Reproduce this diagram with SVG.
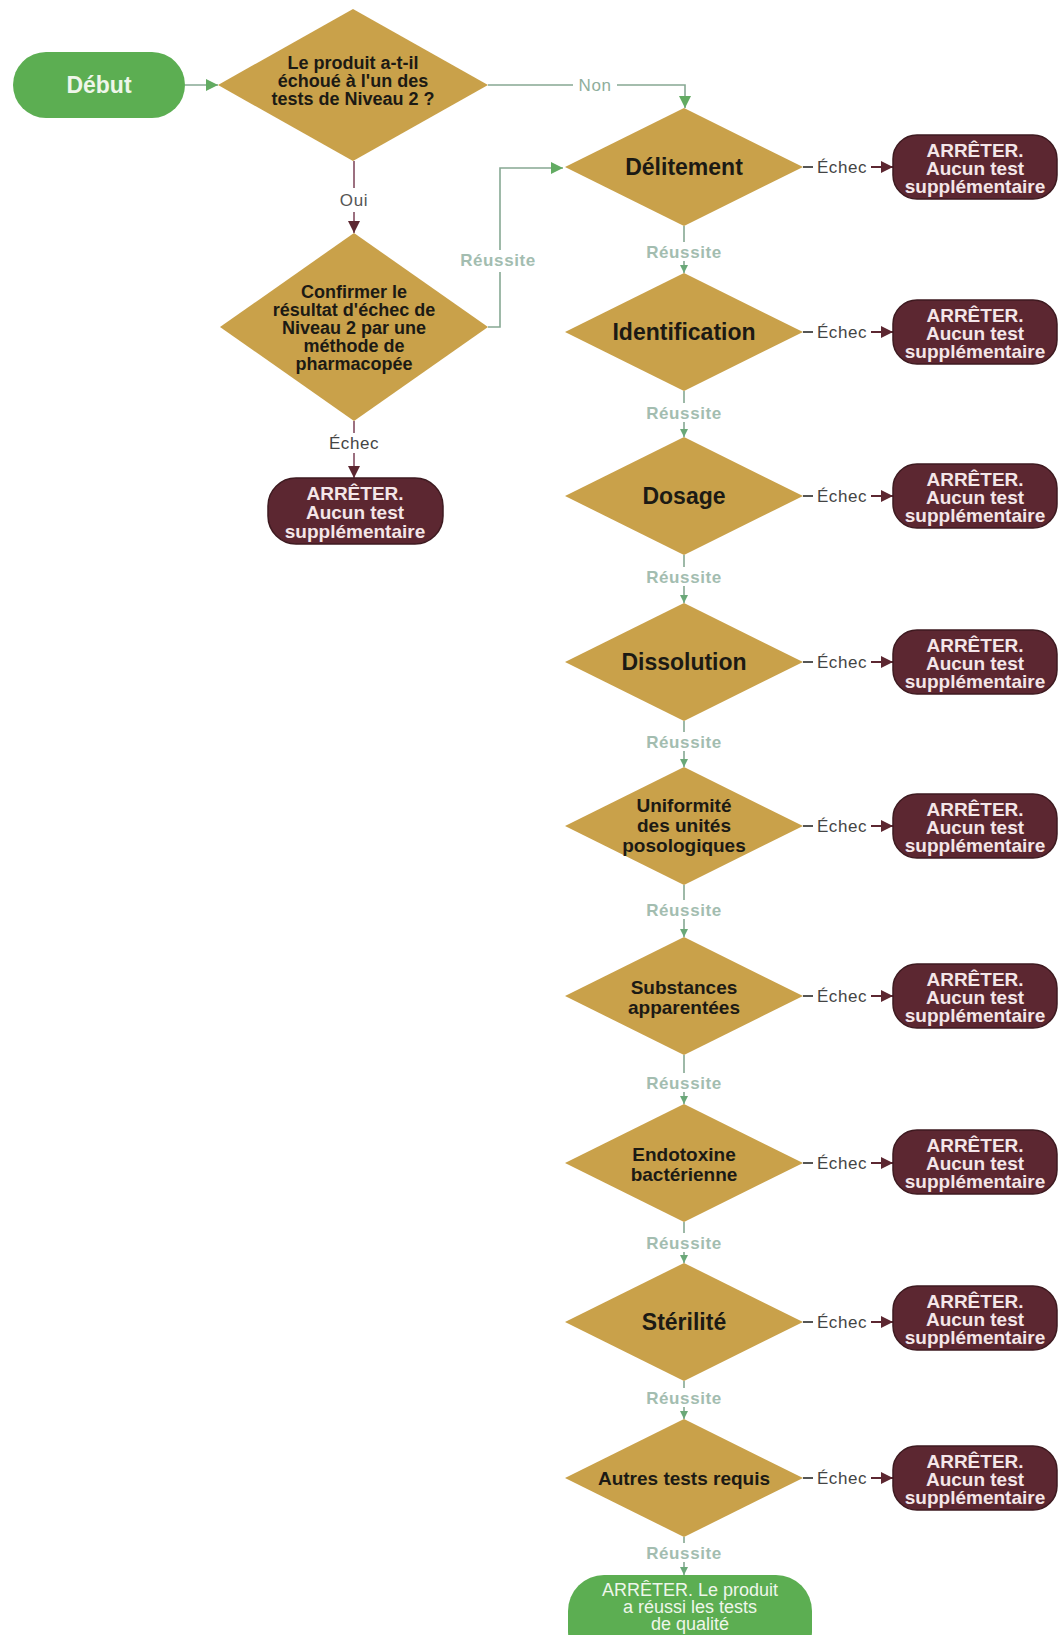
<svg xmlns="http://www.w3.org/2000/svg" width="1058" height="1635" viewBox="0 0 1058 1635">
<style>
text{font-family:"Liberation Sans",Arial,sans-serif;text-anchor:middle}
.dia{fill:#c9a14a}
.dt{font-weight:bold;fill:#1c1a14}
.big{font-size:23px}
.mid{font-size:19px}
.sm{font-size:18px}
.stop{fill:#5c2731;stroke:#3e1a20;stroke-width:1.5}
.st{font-size:19px;font-weight:bold;fill:#f4e6e8}
.go{fill:#5cae52}
.gt{fill:#eef6ea}
.ok{stroke:#86a893;stroke-width:1.6;fill:none}
.ko{stroke:#5c2731;stroke-width:2;fill:none}
.ks{stroke:#555;stroke-width:2;fill:none}
.lr{font-size:17px;font-weight:bold;fill:#a3bdb0;letter-spacing:0.6px}
.le{font-size:17px;fill:#444;letter-spacing:0.6px}
</style>
<defs>
<marker id="ag" viewBox="0 0 10 10" refX="10" refY="5" markerWidth="12" markerHeight="12" markerUnits="userSpaceOnUse" orient="auto"><path d="M0,0 L10,5 L0,10 z" fill="#62ab62"/></marker>
<marker id="ags" viewBox="0 0 10 10" refX="10" refY="5" markerWidth="8" markerHeight="8" markerUnits="userSpaceOnUse" orient="auto"><path d="M0,0 L10,5 L0,10 z" fill="#6aa878"/></marker>
<marker id="ar" viewBox="0 0 10 10" refX="10" refY="5" markerWidth="12" markerHeight="12" markerUnits="userSpaceOnUse" orient="auto"><path d="M0,0 L10,5 L0,10 z" fill="#5c2731"/></marker>
</defs>

<g id="connectors">
<path class="ok" d="M185,85 H218" marker-end="url(#ag)"/>
<path class="ok" d="M488,85 H573 M617,85 H685 V108" marker-end="url(#ag)"/>
<text class="le" x="595" y="91" style="fill:#8fae9c">Non</text>
<path d="M354,161 V188 M354,212 V233" stroke="#9c7080" stroke-width="2" fill="none" marker-end="url(#ar)"/>
<text class="le" x="354" y="206" style="fill:#555">Oui</text>
<path class="ok" d="M488,327 H500 V272 M500,250 V168 H563" marker-end="url(#ag)"/>
<text class="lr" x="498" y="266">Réussite</text>
<path d="M354,421 V433 M354,453 V478" stroke="#9c7080" stroke-width="2" fill="none" marker-end="url(#ar)"/>
<text class="le" x="354" y="449">Échec</text>

<path class="ok" d="M684,226 V242 M684,261 V273" marker-end="url(#ags)"/>
<text class="lr" x="684" y="258">Réussite</text>
<path class="ok" d="M684,391 V403 M684,422 V437" marker-end="url(#ags)"/>
<text class="lr" x="684" y="419">Réussite</text>
<path class="ok" d="M684,555 V567 M684,586 V603" marker-end="url(#ags)"/>
<text class="lr" x="684" y="583">Réussite</text>
<path class="ok" d="M684,721 V732 M684,751 V767" marker-end="url(#ags)"/>
<text class="lr" x="684" y="748">Réussite</text>
<path class="ok" d="M684,885 V900 M684,919 V937" marker-end="url(#ags)"/>
<text class="lr" x="684" y="916">Réussite</text>
<path class="ok" d="M684,1055 V1073 M684,1092 V1104" marker-end="url(#ags)"/>
<text class="lr" x="684" y="1089">Réussite</text>
<path class="ok" d="M684,1222 V1233 M684,1252 V1263" marker-end="url(#ags)"/>
<text class="lr" x="684" y="1249">Réussite</text>
<path class="ok" d="M684,1381 V1388 M684,1407 V1419" marker-end="url(#ags)"/>
<text class="lr" x="684" y="1404">Réussite</text>
<path class="ok" d="M684,1537 V1543 M684,1562 V1575" marker-end="url(#ags)"/>
<text class="lr" x="684" y="1559">Réussite</text>

<g>
<path class="ks" d="M803,167 H813"/><path class="ko" d="M871,167 H893" marker-end="url(#ar)"/><text class="le" x="842" y="173">Échec</text>
<path class="ks" d="M803,332 H813"/><path class="ko" d="M871,332 H893" marker-end="url(#ar)"/><text class="le" x="842" y="338">Échec</text>
<path class="ks" d="M803,496 H813"/><path class="ko" d="M871,496 H893" marker-end="url(#ar)"/><text class="le" x="842" y="502">Échec</text>
<path class="ks" d="M803,662 H813"/><path class="ko" d="M871,662 H893" marker-end="url(#ar)"/><text class="le" x="842" y="668">Échec</text>
<path class="ks" d="M803,826 H813"/><path class="ko" d="M871,826 H893" marker-end="url(#ar)"/><text class="le" x="842" y="832">Échec</text>
<path class="ks" d="M803,996 H813"/><path class="ko" d="M871,996 H893" marker-end="url(#ar)"/><text class="le" x="842" y="1002">Échec</text>
<path class="ks" d="M803,1163 H813"/><path class="ko" d="M871,1163 H893" marker-end="url(#ar)"/><text class="le" x="842" y="1169">Échec</text>
<path class="ks" d="M803,1322 H813"/><path class="ko" d="M871,1322 H893" marker-end="url(#ar)"/><text class="le" x="842" y="1328">Échec</text>
<path class="ks" d="M803,1478 H813"/><path class="ko" d="M871,1478 H893" marker-end="url(#ar)"/><text class="le" x="842" y="1484">Échec</text>
</g>
</g>

<g id="debut">
<rect class="go" x="13" y="52" width="172" height="66" rx="33"/>
<text class="gt" x="99" y="93" font-size="23" font-weight="bold">Début</text>
</g>

<g id="q1">
<polygon class="dia" points="353,9 488,85 353,161 218,85"/>
<text class="dt sm" x="353" y="69">Le produit a-t-il<tspan x="353" dy="18">échoué à l'un des</tspan><tspan x="353" dy="18">tests de Niveau 2 ?</tspan></text>
</g>

<g id="q2">
<polygon class="dia" points="354,233 488,327 354,421 220,327"/>
<text class="dt sm" x="354" y="298">Confirmer le<tspan x="354" dy="18">résultat d'échec de</tspan><tspan x="354" dy="18">Niveau 2 par une</tspan><tspan x="354" dy="18">méthode de</tspan><tspan x="354" dy="18">pharmacopée</tspan></text>
</g>

<g id="stop0">
<rect class="stop" x="268" y="478" width="175" height="66" rx="28"/>
<text class="st" x="355" y="500">ARRÊTER.<tspan x="355" dy="19">Aucun test</tspan><tspan x="355" dy="19">supplémentaire</tspan></text>
</g>

<g id="t1"><polygon class="dia" points="684,108 803,167 684,226 565,167"/><text class="dt big" x="684" y="175">Délitement</text></g>
<g id="t2"><polygon class="dia" points="684,273 803,332 684,391 565,332"/><text class="dt big" x="684" y="340">Identification</text></g>
<g id="t3"><polygon class="dia" points="684,437 803,496 684,555 565,496"/><text class="dt big" x="684" y="504">Dosage</text></g>
<g id="t4"><polygon class="dia" points="684,603 803,662 684,721 565,662"/><text class="dt big" x="684" y="670">Dissolution</text></g>
<g id="t5"><polygon class="dia" points="684,767 803,826 684,885 565,826"/><text class="dt mid" x="684" y="812">Uniformité<tspan x="684" dy="20">des unités</tspan><tspan x="684" dy="20">posologiques</tspan></text></g>
<g id="t6"><polygon class="dia" points="684,937 803,996 684,1055 565,996"/><text class="dt mid" x="684" y="994">Substances<tspan x="684" dy="20">apparentées</tspan></text></g>
<g id="t7"><polygon class="dia" points="684,1104 803,1163 684,1222 565,1163"/><text class="dt mid" x="684" y="1161">Endotoxine<tspan x="684" dy="20">bactérienne</tspan></text></g>
<g id="t8"><polygon class="dia" points="684,1263 803,1322 684,1381 565,1322"/><text class="dt big" x="684" y="1330">Stérilité</text></g>
<g id="t9"><polygon class="dia" points="684,1419 803,1478 684,1537 565,1478"/><text class="dt mid" x="684" y="1485">Autres tests requis</text></g>

<g id="s1"><rect class="stop" x="893" y="135" width="164" height="64" rx="24"/><text class="st" x="975" y="157">ARRÊTER.<tspan x="975" dy="18">Aucun test</tspan><tspan x="975" dy="18">supplémentaire</tspan></text></g>
<g id="s2"><rect class="stop" x="893" y="300" width="164" height="64" rx="24"/><text class="st" x="975" y="322">ARRÊTER.<tspan x="975" dy="18">Aucun test</tspan><tspan x="975" dy="18">supplémentaire</tspan></text></g>
<g id="s3"><rect class="stop" x="893" y="464" width="164" height="64" rx="24"/><text class="st" x="975" y="486">ARRÊTER.<tspan x="975" dy="18">Aucun test</tspan><tspan x="975" dy="18">supplémentaire</tspan></text></g>
<g id="s4"><rect class="stop" x="893" y="630" width="164" height="64" rx="24"/><text class="st" x="975" y="652">ARRÊTER.<tspan x="975" dy="18">Aucun test</tspan><tspan x="975" dy="18">supplémentaire</tspan></text></g>
<g id="s5"><rect class="stop" x="893" y="794" width="164" height="64" rx="24"/><text class="st" x="975" y="816">ARRÊTER.<tspan x="975" dy="18">Aucun test</tspan><tspan x="975" dy="18">supplémentaire</tspan></text></g>
<g id="s6"><rect class="stop" x="893" y="964" width="164" height="64" rx="24"/><text class="st" x="975" y="986">ARRÊTER.<tspan x="975" dy="18">Aucun test</tspan><tspan x="975" dy="18">supplémentaire</tspan></text></g>
<g id="s7"><rect class="stop" x="893" y="1130" width="164" height="64" rx="24"/><text class="st" x="975" y="1152">ARRÊTER.<tspan x="975" dy="18">Aucun test</tspan><tspan x="975" dy="18">supplémentaire</tspan></text></g>
<g id="s8"><rect class="stop" x="893" y="1286" width="164" height="64" rx="24"/><text class="st" x="975" y="1308">ARRÊTER.<tspan x="975" dy="18">Aucun test</tspan><tspan x="975" dy="18">supplémentaire</tspan></text></g>
<g id="s9"><rect class="stop" x="893" y="1446" width="164" height="64" rx="24"/><text class="st" x="975" y="1468">ARRÊTER.<tspan x="975" dy="18">Aucun test</tspan><tspan x="975" dy="18">supplémentaire</tspan></text></g>

<g id="fin">
<rect class="go" x="568" y="1575" width="244" height="92" rx="36"/>
<text class="gt" x="690" y="1596" font-size="18">ARRÊTER. Le produit<tspan x="690" dy="17">a réussi les tests</tspan><tspan x="690" dy="17">de qualité</tspan></text>
</g>
</svg>
